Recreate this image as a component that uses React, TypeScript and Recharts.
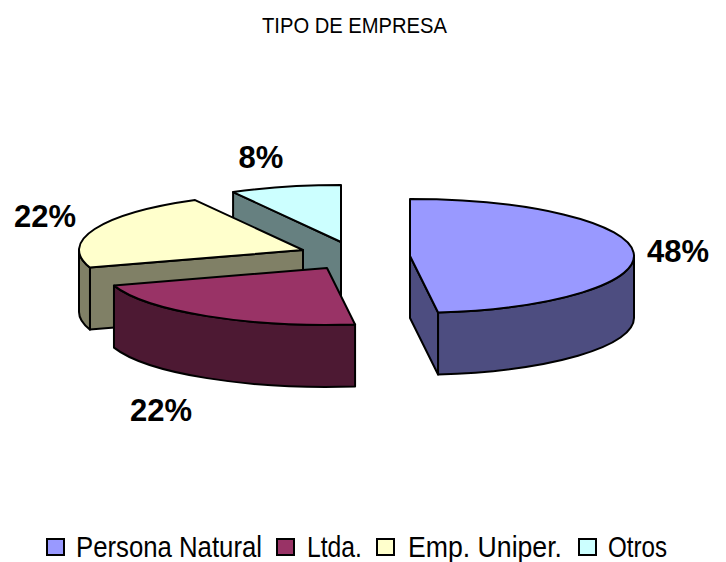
import React from 'react';
import { PieChart, Pie, Legend } from 'recharts';

const TITLE = 'TIPO DE EMPRESA';
const categories = ['Persona Natural', 'Ltda.', 'Emp. Uniper.', 'Otros'];
const shares = [48, 22, 22, 8];
const topColors = ['#9999FF', '#993366', '#FFFFCC', '#CCFFFF'];
const sideColors = ['#4D4D80', '#4D1933', '#808066', '#668080'];

// Exploded offsets of each wedge from the pie's centre.
const explodeX = [69, -14, -38, 0];
const explodeY = [1, 13, -5, -13];
// Label anchor of each wedge.
const labelX = [678, 161, 45, 261];
const labelY = [262, 421, 227, 168];
// Legend layout.
const swatchX = [47, 277, 377, 579];
const legendTextX = [76, 307, 408, 608];
const legendTextW = [186, 55, 154, 59];

const W = 726;
const H = 562;
const RX = 224;
const RY = 57;
const DEPTH = 62;
const LINE = 2;

// Painted back to front: the last wedge of the legend lies behind all others.
const paintOrder = [3, 2, 1, 0];
const table = paintOrder.map((i) => ({
  name: categories[i],
  value: shares[i],
  fill: topColors[i],
  index: i,
}));

function pt(cx: number, cy: number, rx: number, ry: number, theta: number) {
  const a = (theta * Math.PI) / 180;
  return [cx + rx * Math.sin(a), cy - ry * Math.cos(a)];
}

function arc(rx: number, ry: number, x: number, y: number, big: boolean, sweep: number) {
  return `A${rx} ${ry} 0 ${big ? 1 : 0} ${sweep} ${x} ${y}`;
}

function Wedge3D(props: any) {
  const { cx, cy, outerRadius, startAngle, endAngle, payload } = props;
  const i = payload.index;
  const rx = outerRadius;
  const ry = (outerRadius * RY) / RX;
  const ox = cx + explodeX[i];
  const oy = cy + explodeY[i];
  let t1 = Math.min(90 - startAngle, 90 - endAngle);
  let t2 = Math.max(90 - startAngle, 90 - endAngle);
  if (t1 < 0) {
    t1 += 360;
    t2 += 360;
  }
  const side = sideColors[i];
  const common = { stroke: '#000', strokeWidth: LINE, strokeLinejoin: 'round' as const };
  const [sx, sy] = pt(ox, oy, rx, ry, t1);
  const [ex, ey] = pt(ox, oy, rx, ry, t2);
  const sin1 = Math.sin((t1 * Math.PI) / 180);
  const sin2 = Math.sin((t2 * Math.PI) / 180);
  const faces: React.ReactNode[] = [];
  if (sin1 < -1e-6) {
    faces.push(
      <path key="s" {...common} fill={side}
        d={`M${ox} ${oy}L${sx} ${sy}L${sx} ${sy + DEPTH}L${ox} ${oy + DEPTH}Z`} />
    );
  }
  if (sin2 > 1e-6) {
    faces.push(
      <path key="e" {...common} fill={side}
        d={`M${ox} ${oy}L${ex} ${ey}L${ex} ${ey + DEPTH}L${ox} ${oy + DEPTH}Z`} />
    );
  }
  const w1 = Math.max(t1, 90);
  const w2 = Math.min(t2, 270);
  if (w2 > w1) {
    const [ax, ay] = pt(ox, oy, rx, ry, w1);
    const [bx, by] = pt(ox, oy, rx, ry, w2);
    faces.push(
      <path key="w" {...common} fill={side}
        d={`M${ax} ${ay}${arc(rx, ry, bx, by, false, 1)}L${bx} ${by + DEPTH}${arc(rx, ry, ax, ay + DEPTH, false, 0)}Z`} />
    );
  }
  return (
    <g>
      {faces}
      <path {...common} fill={topColors[i]}
        d={`M${ox} ${oy}L${sx} ${sy}${arc(rx, ry, ex, ey, t2 - t1 > 180, 1)}Z`} />
    </g>
  );
}

function renderLabel(props: any) {
  const i = props.payload ? props.payload.index : props.index;
  return (
    <text x={labelX[i]} y={labelY[i]} textAnchor="middle" fontFamily="Liberation Sans"
      fontWeight="bold" fontSize={31} fill="#000">
      {`${shares[i]}%`}
    </text>
  );
}

function LegendRow() {
  return (
    <svg width={W} height={40} style={{ display: 'block' }}>
      {categories.map((c, i) => (
        <g key={c}>
          <rect x={swatchX[i]} y={10} width={17} height={16} fill={topColors[i]} stroke="#000" strokeWidth={2} />
          <text x={legendTextX[i]} y={28} fontFamily="Liberation Sans" fontSize={30} fill="#000"
            textLength={legendTextW[i]} lengthAdjust="spacingAndGlyphs">
            {c}
          </text>
        </g>
      ))}
    </svg>
  );
}

export default function App() {
  return (
    <div style={{ position: 'absolute', left: 0, top: 0, width: W, height: H, background: '#fff' }}>
      <PieChart width={W} height={H} margin={{ top: 0, right: 0, bottom: 0, left: 0 }}>
        <text x={262} y={33} fontFamily="Liberation Sans" fontSize={22} fill="#000"
          textLength={185} lengthAdjust="spacingAndGlyphs">
          {TITLE}
        </text>
        <Pie
          data={table}
          dataKey="value"
          nameKey="name"
          cx={341}
          cy={255}
          outerRadius={RX}
          startAngle={90}
          endAngle={450}
          isAnimationActive={false}
          shape={Wedge3D as any}
          label={renderLabel}
          labelLine={false}
          stroke="#000"
        />
        <Legend
          content={() => <LegendRow />}
          wrapperStyle={{ position: 'absolute', left: 0, top: 529, width: W, height: 33 }}
        />
      </PieChart>
    </div>
  );
}
